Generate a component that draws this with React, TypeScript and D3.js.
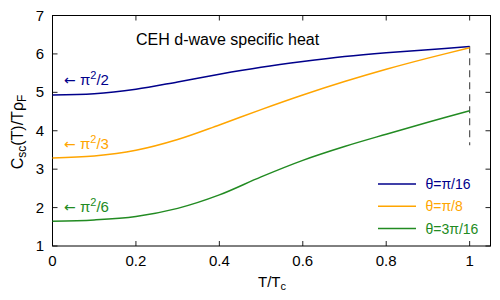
import React, { useEffect, useRef } from 'react';
import * as d3 from 'd3';

// reduced temperature grid T/Tc
const temps = [0, 0.1, 0.2, 0.3, 0.4, 0.5, 0.6, 0.7, 0.8, 0.9, 1.0];
// C_sc(T)/T rho_F for three gap angles
const thetaPi16 = [4.93, 4.96, 5.08, 5.27, 5.47, 5.65, 5.80, 5.93, 6.03, 6.11, 6.19];
const thetaPi8 = [3.29, 3.34, 3.49, 3.77, 4.15, 4.55, 4.93, 5.28, 5.60, 5.89, 6.16];
const theta3Pi16 = [1.645, 1.68, 1.77, 1.98, 2.33, 2.80, 3.23, 3.59, 3.91, 4.22, 4.52];

const seriesNames = ['θ=π/16', 'θ=π/8', 'θ=3π/16'];
const seriesColors = ['#00008b', '#ffa500', '#228b22'];
const limitLabels = ['π²/2', 'π²/3', 'π²/6'];
const limitValues = [Math.PI * Math.PI / 2, Math.PI * Math.PI / 3, Math.PI * Math.PI / 6];

const xTicks = [0, 0.2, 0.4, 0.6, 0.8, 1];
const yTicks = [1, 2, 3, 4, 5, 6, 7];

const W = 500, H = 300;
const m = { left: 52.5, right: 9.5, top: 15.5, bottom: 54 };

const App = () => {
  const svgRef = useRef<SVGSVGElement>(null);

  useEffect(() => {
    const svg = d3.select(svgRef.current);
    svg.selectAll('*').remove();
    const font = 'Liberation Sans, Arial, sans-serif';

    const x = d3.scaleLinear().domain([0, 1.05]).range([m.left, W - m.right]);
    const y = d3.scaleLinear().domain([1, 7]).range([H - m.bottom, m.top]);

    // dashed marker at Tc
    svg.append('line')
      .attr('x1', x(1)).attr('x2', x(1))
      .attr('y1', y(6.2)).attr('y2', y(3.62))
      .attr('stroke', '#555').attr('stroke-width', 1.2)
      .attr('stroke-dasharray', '7,5');

    // ticks (inward, mirrored)
    const tl = 5;
    const g = svg.append('g').attr('stroke', '#222').attr('stroke-width', 1);
    xTicks.forEach(t => {
      g.append('line').attr('x1', x(t)).attr('x2', x(t)).attr('y1', y(1)).attr('y2', y(1) - tl);
      g.append('line').attr('x1', x(t)).attr('x2', x(t)).attr('y1', y(7)).attr('y2', y(7) + tl);
    });
    yTicks.forEach(t => {
      g.append('line').attr('x1', x(0)).attr('x2', x(0) + tl).attr('y1', y(t)).attr('y2', y(t));
      g.append('line').attr('x1', x(1.05)).attr('x2', x(1.05) - tl).attr('y1', y(t)).attr('y2', y(t));
    });

    svg.append('rect')
      .attr('x', x(0)).attr('y', y(7))
      .attr('width', x(1.05) - x(0)).attr('height', y(1) - y(7))
      .attr('fill', 'none').attr('stroke', '#000').attr('stroke-width', 1);

    const ts = svg.append('g').attr('font-family', font).attr('font-size', 15).attr('fill', '#000');
    xTicks.forEach(t => {
      ts.append('text').attr('x', x(t)).attr('y', 266).attr('text-anchor', 'middle').text(d3.format('~g')(t));
    });
    yTicks.forEach(t => {
      ts.append('text').attr('x', 44).attr('y', y(t) + 5).attr('text-anchor', 'end').text(t);
    });

    // axis titles
    const xl = ts.append('text').attr('x', 272).attr('y', 287).attr('text-anchor', 'middle');
    xl.append('tspan').text('T/T');
    xl.append('tspan').attr('font-size', 11).attr('dy', 3).text('c');

    const yl = ts.append('text').attr('transform', 'translate(23,132) rotate(-90)')
      .attr('text-anchor', 'middle').attr('font-size', 16);
    yl.append('tspan').text('C');
    yl.append('tspan').attr('font-size', 12).attr('dy', 3).text('sc');
    yl.append('tspan').attr('dy', -3).text('(T)/Tρ');
    yl.append('tspan').attr('font-size', 12).attr('dy', 3).text('F');

    ts.append('text').attr('x', 136).attr('y', 45).attr('font-size', 16).text('CEH d-wave specific heat');

    // curves
    const line = d3.line<number>()
      .x((_, i) => x(temps[i]))
      .y(d => y(d))
      .curve(d3.curveCatmullRom.alpha(0.5));
    [thetaPi16, thetaPi8, theta3Pi16].forEach((s, k) => {
      svg.append('path').attr('d', line(s)).attr('fill', 'none')
        .attr('stroke', seriesColors[k]).attr('stroke-width', 1.5);
    });

    // low-T limit labels
    limitLabels.forEach((lab, k) => {
      const t = svg.append('text').attr('x', 64).attr('y', y(limitValues[k]) - 9.5)
        .attr('font-family', font).attr('font-size', 15).attr('fill', seriesColors[k]);
      t.append('tspan').attr('font-family', 'DejaVu Sans').attr('font-size', 14).text('←');
      t.append('tspan').text(' π');
      t.append('tspan').attr('font-size', 11).attr('dy', -6).text('2');
      t.append('tspan').attr('dy', 6).text(lab.slice(2));
    });

    // legend
    seriesNames.forEach((n, k) => {
      const ly = 184 + k * 22.3;
      svg.append('line').attr('x1', 378).attr('x2', 416).attr('y1', ly).attr('y2', ly)
        .attr('stroke', seriesColors[k]).attr('stroke-width', 1.5);
      svg.append('text').attr('x', 425.5).attr('y', ly + 5)
        .attr('font-family', font).attr('font-size', 14).attr('fill', seriesColors[k]).text(n);
    });
  }, []);

  return (
    <svg ref={svgRef} width={W} height={H}
      style={{ position: 'absolute', left: 0, top: 0, background: '#fff' }} />
  );
};

export default App;
